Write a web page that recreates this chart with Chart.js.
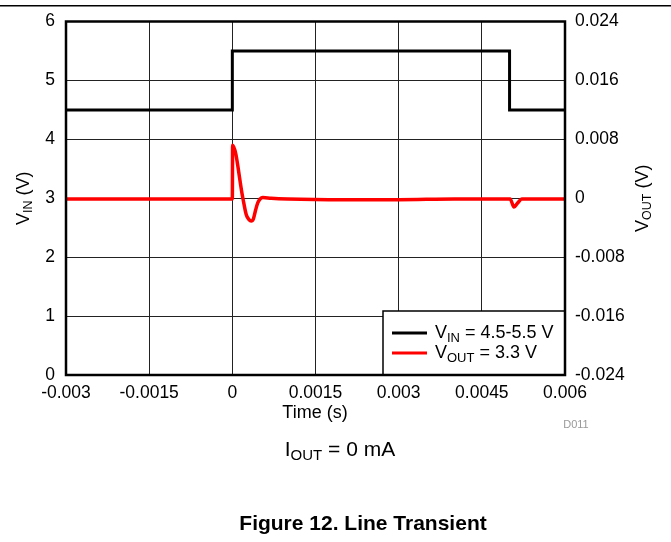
<!DOCTYPE html>
<html>
<head>
<meta charset="utf-8">
<script src="https://cdn.jsdelivr.net/npm/chart.js@4"></script>
<style>
html,body{margin:0;padding:0;background:#fff;}
canvas{display:block;}
</style>
</head>
<body>
<canvas id="c" width="671" height="542"></canvas>
<script>
// ---- data ----
const xTicks = [-0.003, -0.0015, 0, 0.0015, 0.003, 0.0045, 0.006];
const xTickLabels = ['-0.003', '-0.0015', '0', '0.0015', '0.003', '0.0045', '0.006'];
const vinTicks = [0, 1, 2, 3, 4, 5, 6];
const voutTicks = [-0.024, -0.016, -0.008, 0, 0.008, 0.016, 0.024];
const voutTickLabels = ['-0.024', '-0.016', '-0.008', '0', '0.008', '0.016', '0.024'];

const vinTime = [-0.003, 0, 0, 0.005, 0.005, 0.006];
const vinValues = [4.5, 4.5, 5.5, 5.5, 4.5, 4.5];

const voutTime = [-0.003, -0.001, 0, 0.000005, 0.00019, 0.00025, 0.0003, 0.00034, 0.00038, 0.00042, 0.00046, 0.0005, 0.00055, 0.0007, 0.001, 0.002, 0.003, 0.004, 0.00501, 0.00508, 0.00515, 0.00522, 0.0055, 0.006];
const voutValues = [-0.0001, -0.0001, -0.0001, 0.0072, 0.0, -0.0022, -0.0029, -0.0031, -0.0028, -0.0016, -0.0006, -0.0001, 0.0001, 0.0, -0.0001, -0.0002, -0.0002, -0.0001, -0.0001, -0.0012, -0.0006, -0.0001, -0.0001, -0.0001];

const seriesNames = [['V', 'IN', ' = 4.5-5.5 V'], ['V', 'OUT', ' = 3.3 V']];

// ---- helpers ----
const FONT = '"Liberation Sans", Arial, sans-serif';
function subText(ctx, base, sub, rest, x, y, size, subSize, align) {
  ctx.textBaseline = 'middle';
  ctx.font = size + 'px ' + FONT;
  const w1 = ctx.measureText(base).width;
  const w3 = ctx.measureText(rest).width;
  ctx.font = subSize + 'px ' + FONT;
  const w2 = ctx.measureText(sub).width;
  const total = w1 + w2 + w3;
  let sx = x;
  if (align === 'center') sx = x - total / 2;
  else if (align === 'right') sx = x - total;
  ctx.textAlign = 'left';
  ctx.font = size + 'px ' + FONT;
  ctx.fillText(base, sx, y);
  ctx.font = subSize + 'px ' + FONT;
  ctx.fillText(sub, sx + w1, y + size * 0.28);
  ctx.font = size + 'px ' + FONT;
  ctx.fillText(rest, sx + w1 + w2, y);
}

const decor = {
  id: 'decor',
  afterDraw(chart) {
    const ctx = chart.ctx;
    const a = chart.chartArea;
    ctx.save();
    // top page rule
    ctx.fillStyle = '#000';
    ctx.fillRect(0, 5, 671, 1.5);
    // legend box
    const lx = 383, ly = 311, lw = a.right - lx, lh = a.bottom - ly;
    ctx.fillStyle = '#fff';
    ctx.fillRect(lx, ly, lw, lh);
    ctx.strokeStyle = '#000';
    ctx.lineWidth = 1.5;
    ctx.strokeRect(lx, ly, lw, lh);
    // plot border
    ctx.lineWidth = 2.5;
    ctx.strokeRect(a.left, a.top, a.right - a.left, a.bottom - a.top);
    const colors = ['#000', '#ff0000'];
    const rows = [333, 353];
    for (let i = 0; i < 2; i++) {
      ctx.strokeStyle = colors[i];
      ctx.lineWidth = 3;
      ctx.beginPath();
      ctx.moveTo(392, rows[i]);
      ctx.lineTo(427, rows[i]);
      ctx.stroke();
      ctx.fillStyle = '#000';
      subText(ctx, seriesNames[i][0], seriesNames[i][1], seriesNames[i][2], 435, rows[i], 18, 13, 'left');
    }
    // axis titles
    ctx.fillStyle = '#000';
    ctx.save();
    ctx.translate(24, (a.top + a.bottom) / 2);
    ctx.rotate(-Math.PI / 2);
    subText(ctx, 'V', 'IN', ' (V)', 0, 0, 18, 12.5, 'center');
    ctx.restore();
    ctx.save();
    ctx.translate(643, (a.top + a.bottom) / 2);
    ctx.rotate(-Math.PI / 2);
    subText(ctx, 'V', 'OUT', ' (V)', 0, 0, 18, 12.5, 'center');
    ctx.restore();
    ctx.textAlign = 'center';
    ctx.textBaseline = 'middle';
    ctx.font = '18px ' + FONT;
    ctx.fillText('Time (s)', 315, 413);
    ctx.fillStyle = '#999';
    ctx.font = '11px ' + FONT;
    ctx.fillText('D011', 576, 425);
    ctx.fillStyle = '#000';
    subText(ctx, 'I', 'OUT', ' = 0 mA', 340, 450, 21, 15, 'center');
    ctx.font = 'bold 21px ' + FONT;
    ctx.textAlign = 'center';
    ctx.fillText('Figure 12. Line Transient', 363, 524);
    ctx.restore();
  }
};

const vinData = vinTime.map((t, i) => ({x: t, y: vinValues[i]}));
const voutData = voutTime.map((t, i) => ({x: t, y: voutValues[i]}));

new Chart(document.getElementById('c'), {
  type: 'line',
  data: {
    datasets: [
      {label: 'VIN', data: vinData, yAxisID: 'y', borderColor: '#000', borderWidth: 3, pointRadius: 0, tension: 0, fill: false},
      {label: 'VOUT', data: voutData, yAxisID: 'y2', borderColor: '#ff0000', borderWidth: 3.5, pointRadius: 0, fill: false, cubicInterpolationMode: 'monotone'}
    ]
  },
  options: {
    responsive: false,
    animation: false,
    layout: {padding: {top: 20, left: 0, right: 0, bottom: 0}},
    plugins: {legend: {display: false}, tooltip: {enabled: false}},
    scales: {
      x: {
        type: 'linear', min: -0.003, max: 0.006,
        afterBuildTicks: s => { s.ticks = xTicks.map(v => ({value: v})); },
        afterFit: s => { s.height = 167; },
        ticks: {
          callback: (v) => xTickLabels[xTicks.indexOf(v)],
          color: '#000', font: {family: FONT, size: 17.5}, padding: 8, maxRotation: 0, autoSkip: false
        },
        grid: {color: '#222', lineWidth: 1, drawTicks: false},
        border: {display: false}
      },
      y: {
        type: 'linear', position: 'left', min: 0, max: 6,
        afterBuildTicks: s => { s.ticks = vinTicks.map(v => ({value: v})); },
        afterFit: s => { s.width = 66; },
        ticks: {color: '#000', font: {family: FONT, size: 17.5}, padding: 11},
        grid: {color: '#222', lineWidth: 1, drawTicks: false},
        border: {display: false}
      },
      y2: {
        type: 'linear', position: 'right', min: -0.024, max: 0.024,
        afterBuildTicks: s => { s.ticks = voutTicks.map(v => ({value: v})); },
        afterFit: s => { s.width = 106; },
        ticks: {
          callback: (v) => voutTickLabels[voutTicks.indexOf(v)],
          color: '#000', font: {family: FONT, size: 17.5}, padding: 10
        },
        grid: {display: false, drawTicks: false},
        border: {display: false}
      }
    }
  },
  plugins: [decor]
});
</script>
</body>
</html>
